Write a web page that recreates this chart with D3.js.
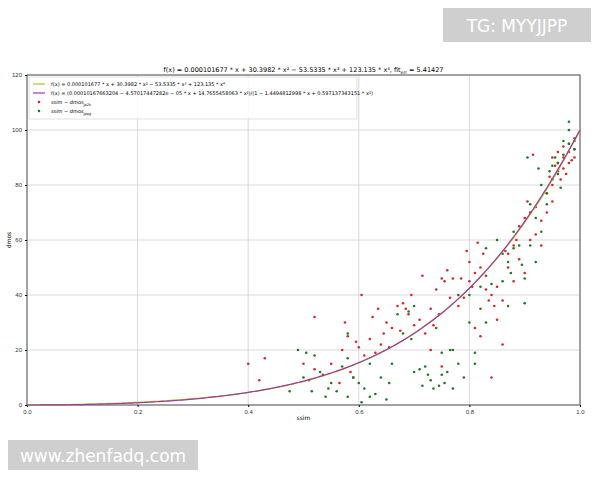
<!DOCTYPE html>
<html>
<head>
<meta charset="utf-8">
<script src="https://cdn.jsdelivr.net/npm/d3@7"></script>
<style>
body { margin: 0; background: #fff; font-family: "DejaVu Sans", sans-serif; }
.tick text { font-size: 6px; fill: #333; }
</style>
</head>
<body>
<div id="chart"></div>
<script>
var svgWidth = 600;
var svgHeight = 480;
var margin = { top: 75, right: 20, bottom: 75, left: 27 };
var chartWidth = svgWidth - margin.left - margin.right;
var chartHeight = svgHeight - margin.top - margin.bottom;

var xTicks = [0, 0.2, 0.4, 0.6, 0.8, 1.0];
var yTicks = [0, 20, 40, 60, 80, 100, 120];

// ssim - dmos (jp2k)
var redPoints = [[0.40,15],[0.42,9],[0.43,17],[0.50,15],[0.52,13],[0.52,32],[0.55,15],[0.57,20],[0.58,25],[0.59,10],[0.60,21],[0.61,18],[0.62,24],[0.63,19],[0.64,22],[0.65,30],[0.66,28],[0.67,36],[0.68,37],[0.69,33],[0.70,29],[0.71,31],[0.72,26],[0.73,35],[0.73,20],[0.74,42],[0.75,46],[0.75,14],[0.76,49],[0.77,46],[0.78,36],[0.79,39],[0.80,52],[0.80,45],[0.81,48],[0.81,28],[0.82,50],[0.82,25],[0.83,42],[0.83,47],[0.84,40],[0.84,10],[0.85,43],[0.85,31],[0.86,38],[0.86,22],[0.87,50],[0.87,55],[0.88,58],[0.88,45],[0.89,53],[0.89,65],[0.90,68],[0.90,48],[0.91,70],[0.91,60],[0.92,62],[0.92,72],[0.93,67],[0.93,58],[0.94,77],[0.94,70],[0.95,80],[0.95,74],[0.95,90],[0.96,88],[0.96,92],[0.96,85],[0.97,90],[0.97,86],[0.97,94],[0.98,88],[0.98,92],[0.98,95],[0.99,90],[0.99,93],[0.99,97],[0.985,89],[0.975,84],[0.965,82],[0.955,87],[0.945,83],[0.915,91],[0.905,74],[0.885,60],[0.865,56],[0.845,36],[0.835,38],[0.825,55],[0.815,59],[0.805,43],[0.795,56],[0.785,46],[0.765,39],[0.755,45],[0.745,33],[0.735,29],[0.715,47],[0.695,40],[0.685,35],[0.675,27],[0.655,21],[0.645,26],[0.635,35],[0.625,32],[0.605,40],[0.595,23],[0.585,12],[0.575,30],[0.565,8],[0.535,11]];

// ssim - dmos (jpeg)
var greenPoints = [[0.49,20],[0.50,10],[0.51,9],[0.52,18],[0.53,12],[0.54,3],[0.55,8],[0.56,5],[0.57,14],[0.58,17],[0.58,3],[0.59,10],[0.60,8],[0.61,6],[0.62,15],[0.62,3],[0.63,4],[0.64,10],[0.65,2],[0.66,15],[0.67,33],[0.68,26],[0.69,34],[0.70,36],[0.70,12],[0.71,13],[0.72,14],[0.73,9],[0.74,28],[0.75,11],[0.75,19],[0.76,12],[0.77,20],[0.77,6],[0.78,40],[0.78,15],[0.79,10],[0.80,40],[0.80,30],[0.81,15],[0.81,19],[0.82,35],[0.82,43],[0.83,30],[0.83,57],[0.84,44],[0.85,60],[0.86,45],[0.86,55],[0.87,52],[0.87,36],[0.88,57],[0.88,63],[0.89,58],[0.90,46],[0.90,37],[0.91,73],[0.91,58],[0.92,68],[0.92,52],[0.93,80],[0.93,63],[0.94,77],[0.94,73],[0.95,82],[0.95,87],[0.96,84],[0.96,88],[0.97,91],[0.97,96],[0.98,103],[0.98,100],[0.98,95],[0.99,93],[0.99,96],[0.965,79],[0.955,90],[0.945,85],[0.925,86],[0.905,90],[0.895,51],[0.875,48],[0.765,20],[0.755,8],[0.745,7],[0.735,6],[0.725,11],[0.715,7],[0.695,24],[0.655,8],[0.605,1],[0.545,6],[0.515,5],[0.505,19],[0.475,5],[0.58,26]];

// fitted curves
function poly(x) {
  return 0.000101677 * x + 30.3982 * x * x - 53.5335 * x * x * x + 123.135 * x * x * x * x;
}
function rational(x) {
  return (0.00010167663204 - 4.57017447282e-05 * x + 14.7655458063 * x * x) /
    (1 - 1.4494812998 * x + 0.597137343151 * x * x);
}

var svg = d3.select("#chart").append("svg")
  .attr("width", svgWidth)
  .attr("height", svgHeight);

var chartGroup = svg.append("g")
  .attr("transform", `translate(${margin.left}, ${margin.top})`);

var xScale = d3.scaleLinear().domain([0, 1]).range([0, chartWidth]);
var yScale = d3.scaleLinear().domain([0, 120]).range([chartHeight, 0]);

// grid
chartGroup.append("g").selectAll("line").data(xTicks).enter().append("line")
  .attr("x1", d => xScale(d)).attr("x2", d => xScale(d))
  .attr("y1", 0).attr("y2", chartHeight)
  .attr("stroke", "#d0d0d0").attr("stroke-width", 0.8);
chartGroup.append("g").selectAll("line").data(yTicks).enter().append("line")
  .attr("y1", d => yScale(d)).attr("y2", d => yScale(d))
  .attr("x1", 0).attr("x2", chartWidth)
  .attr("stroke", "#d0d0d0").attr("stroke-width", 0.8);

chartGroup.append("rect")
  .attr("width", chartWidth).attr("height", chartHeight)
  .attr("fill", "none").attr("stroke", "#333").attr("stroke-width", 0.8);

var xAxis = chartGroup.append("g")
  .attr("transform", `translate(0, ${chartHeight})`)
  .call(d3.axisBottom(xScale).tickValues(xTicks).tickFormat(d3.format(".1f")).tickSize(2));
var yAxis = chartGroup.append("g")
  .call(d3.axisLeft(yScale).tickValues(yTicks).tickSize(2));
xAxis.select(".domain").remove();
yAxis.select(".domain").remove();

chartGroup.append("text")
  .attr("x", chartWidth / 2).attr("y", chartHeight + 15)
  .attr("text-anchor", "middle").attr("font-size", 6).text("ssim");
chartGroup.append("text")
  .attr("transform", "rotate(-90)")
  .attr("x", -chartHeight / 2).attr("y", -16)
  .attr("text-anchor", "middle").attr("font-size", 6).text("dmos");

// scatter
chartGroup.append("g").selectAll("circle").data(redPoints).enter().append("circle")
  .attr("cx", d => xScale(d[0])).attr("cy", d => yScale(d[1]))
  .attr("r", 1.3).attr("fill", "#d62728");
chartGroup.append("g").selectAll("circle").data(greenPoints).enter().append("circle")
  .attr("cx", d => xScale(d[0])).attr("cy", d => yScale(d[1]))
  .attr("r", 1.3).attr("fill", "#1f7a1f");

var xs = d3.range(0, 1.0001, 0.005);
var line = fn => d3.line().x(d => xScale(d)).y(d => yScale(fn(d)))(xs);
chartGroup.append("path").attr("d", line(poly))
  .attr("fill", "none").attr("stroke", "#bcbd22").attr("stroke-width", 1.2);
chartGroup.append("path").attr("d", line(rational))
  .attr("fill", "none").attr("stroke", "#9b3d9b").attr("stroke-width", 1.2);

// title
var title = svg.append("text")
  .attr("x", margin.left + chartWidth / 2).attr("y", 72)
  .attr("text-anchor", "middle").attr("font-size", 6.5)
  .text("f(x) = 0.000101677 * x + 30.3982 * x² − 53.5335 * x³ + 123.135 * x⁴,    fit");
title.append("tspan").attr("font-size", 4.5).attr("dy", 1.5).text("err");
title.append("tspan").attr("dy", -1.5).text(" = 5.41427");

// legend
var legend = chartGroup.append("g").attr("transform", "translate(2, 2)");
legend.append("rect").attr("width", 328).attr("height", 42)
  .attr("fill", "#fff").attr("fill-opacity", 0.85).attr("stroke", "#ccc").attr("stroke-width", 0.6);
var legendItems = [
  { type: "line", color: "#bcbd22", label: "f(x) = 0.000101677 * x + 30.3982 * x² − 53.5335 * x³ + 123.135 * x⁴" },
  { type: "line", color: "#9b3d9b", label: "f(x) = (0.00010167663204 − 4.57017447282e − 05 * x + 14.7655458063 * x²)/(1 − 1.4494812998 * x + 0.597137343151 * x²)" },
  { type: "dot", color: "#d62728", label: "ssim − dmos", sub: "jp2k" },
  { type: "dot", color: "#1f7a1f", label: "ssim − dmos", sub: "jpeg" }
];
legendItems.forEach(function(item, i) {
  var y = 7 + i * 9;
  if (item.type === "line") {
    legend.append("line").attr("x1", 4).attr("x2", 16).attr("y1", y).attr("y2", y)
      .attr("stroke", item.color).attr("stroke-width", 1.2);
  } else {
    legend.append("circle").attr("cx", 10).attr("cy", y).attr("r", 1.3).attr("fill", item.color);
  }
  var t = legend.append("text").attr("x", 22).attr("y", y + 2).attr("font-size", 5)
    .attr("font-style", item.type === "dot" ? "italic" : "normal").text(item.label);
  if (item.sub) t.append("tspan").attr("font-size", 3.5).attr("dy", 1.5).text(item.sub);
});

// watermarks
svg.append("rect").attr("x", 443).attr("y", 8).attr("width", 148).attr("height", 34).attr("fill", "#cfcfcf");
svg.append("text").attr("x", 517).attr("y", 32).attr("text-anchor", "middle")
  .attr("font-size", 17).attr("fill", "#fff").text("TG: MYYJJPP");
svg.append("rect").attr("x", 8).attr("y", 440).attr("width", 190).attr("height", 30).attr("fill", "#cfcfcf");
svg.append("text").attr("x", 103).attr("y", 462).attr("text-anchor", "middle")
  .attr("font-size", 17).attr("fill", "#fff").text("www.zhenfadq.com");
</script>
</body>
</html>
